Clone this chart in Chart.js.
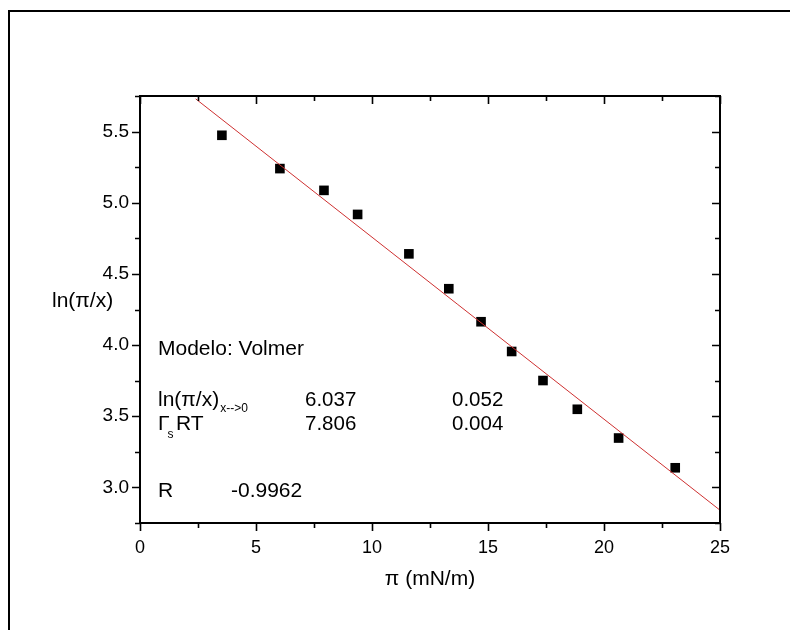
<!DOCTYPE html>
<html><head><meta charset="utf-8">
<script src="https://cdn.jsdelivr.net/npm/chart.js@4.4.1/dist/chart.umd.min.js"></script>
<style>html,body{margin:0;padding:0;background:#fff;}#wrap{width:790px;height:630px;position:relative;}</style>
</head><body><div id="wrap"><canvas id="c" width="790" height="630"></canvas></div>
<script>
// ---- data ----
const piValues = [3.53, 6.03, 7.93, 9.38, 11.59, 13.31, 14.70, 16.02, 17.37, 18.85, 20.63, 23.07];
const lnValues = [5.474, 5.240, 5.087, 4.918, 4.641, 4.396, 4.164, 3.955, 3.751, 3.549, 3.347, 3.138];
const fitX = [2.4, 25];
const fitY = [5.730, 2.840];
const xTickLabels = ['0', '5', '10', '15', '20', '25'];
const yTickLabels = ['3.0', '3.5', '4.0', '4.5', '5.0', '5.5'];
const xTitle = 'π (mN/m)';
const yTitle = 'ln(π/x)';
const modelText = 'Modelo: Volmer';
const paramValues = ['6.037', '7.806'];
const paramErrors = ['0.052', '0.004'];
const rLabel = 'R';
const rValue = '-0.9962';

const FONT = "'Liberation Sans', Arial, sans-serif";

const decor = {
  id: 'decor',
  afterDraw(chart) {
    const {ctx, chartArea: a, scales: {x, y}} = chart;
    ctx.save();
    ctx.strokeStyle = '#000';
    ctx.lineWidth = 2;
    ctx.beginPath();
    ctx.moveTo(9, 630); ctx.lineTo(9, 11); ctx.lineTo(790, 11);
    ctx.stroke();
    ctx.lineWidth = 2;
    ctx.strokeRect(a.left, a.top, a.right - a.left, a.bottom - a.top);
    ctx.lineWidth = 1.6;
    ctx.beginPath();
    x.ticks.forEach(t => {
      const px = Math.round(x.getPixelForValue(t.value)) + 0.5;
      const L = (Math.abs(t.value / 5 - Math.round(t.value / 5)) < 1e-6) ? 8 : 5;
      ctx.moveTo(px, a.bottom); ctx.lineTo(px, a.bottom + L);
      ctx.moveTo(px, a.top); ctx.lineTo(px, a.top + L);
    });
    y.ticks.forEach(t => {
      const py = Math.round(y.getPixelForValue(t.value)) + 0.5;
      const L = (Math.abs(t.value / 0.5 - Math.round(t.value / 0.5)) < 1e-6) ? 8 : 5;
      ctx.moveTo(a.left, py); ctx.lineTo(a.left - L, py);
      ctx.moveTo(a.right, py); ctx.lineTo(a.right - L, py);
    });
    ctx.stroke();

    ctx.fillStyle = '#000';
    ctx.textBaseline = 'alphabetic';
    ctx.textAlign = 'left';
    ctx.font = '21px ' + FONT;
    ctx.fillText(yTitle, 52, 307);

    ctx.font = '21px ' + FONT;
    ctx.fillText(modelText, 158, 355);
    ctx.fillText('ln(π/x)', 158, 406);
    let w = ctx.measureText('ln(π/x)').width;
    ctx.font = '12px ' + FONT;
    ctx.fillText('x-->0', 158 + w + 1, 412);
    ctx.font = '20.5px ' + FONT;
    ctx.fillText(paramValues[0], 305, 406);
    ctx.fillText(paramErrors[0], 452, 406);
    ctx.font = '21px ' + FONT;
    ctx.fillText('Γ', 158, 430);
    w = ctx.measureText('Γ').width;
    ctx.font = '12px ' + FONT;
    ctx.fillText('s', 158 + w - 2, 438);
    ctx.font = '21px ' + FONT;
    ctx.fillText('RT', 176, 430);
    ctx.font = '20.5px ' + FONT;
    ctx.fillText(paramValues[1], 305, 430);
    ctx.fillText(paramErrors[1], 452, 430);
    ctx.font = '21px ' + FONT;
    ctx.fillText(rLabel, 158, 497);
    ctx.fillText(rValue, 231, 497);
    ctx.restore();
  }
};

new Chart(document.getElementById('c'), {
  type: 'scatter',
  data: {
    datasets: [
      {
        label: 'fit',
        type: 'line',
        data: fitX.map((v, i) => ({x: v, y: fitY[i]})),
        borderColor: 'rgb(206,48,48)',
        borderWidth: 1,
        pointRadius: 0,
        fill: false,
        tension: 0
      },
      {
        label: 'data',
        data: piValues.map((v, i) => ({x: v, y: lnValues[i]})),
        pointStyle: 'rect',
        pointRadius: 6.8,
        backgroundColor: '#000',
        borderColor: '#000',
        borderWidth: 0
      }
    ]
  },
  options: {
    responsive: false,
    animation: false,
    devicePixelRatio: 1,
    layout: {padding: {left: 10, right: 70, top: 96, bottom: 0}},
    plugins: {legend: {display: false}, tooltip: {enabled: false}},
    scales: {
      x: {
        type: 'linear', min: 0, max: 25,
        afterFit(s) { s.height = 107; },
        grid: {display: false, drawTicks: false},
        border: {display: false},
        ticks: {
          stepSize: 2.5, autoSkip: false, maxRotation: 0, padding: 14, color: '#000',
          font: {family: FONT, size: 18},
          callback: v => { const l = xTickLabels.find(s => Math.abs(Number(s) - v) < 1e-6); return l === undefined ? '' : l; }
        },
        title: {display: true, text: xTitle, color: '#000', font: {family: FONT, size: 21}, padding: {top: 0, bottom: 38}}
      },
      y: {
        type: 'linear', min: 2.75, max: 5.75,
        afterFit(s) { s.width = 130; },
        grid: {display: false, drawTicks: false},
        border: {display: false},
        ticks: {
          stepSize: 0.25, autoSkip: false, padding: 11, color: '#000',
          font: {family: FONT, size: 19},
          callback: v => { const l = yTickLabels.find(s => Math.abs(Number(s) - v) < 1e-6); return l === undefined ? '' : l; }
        }
      }
    }
  },
  plugins: [decor]
});
</script>
</body></html>
